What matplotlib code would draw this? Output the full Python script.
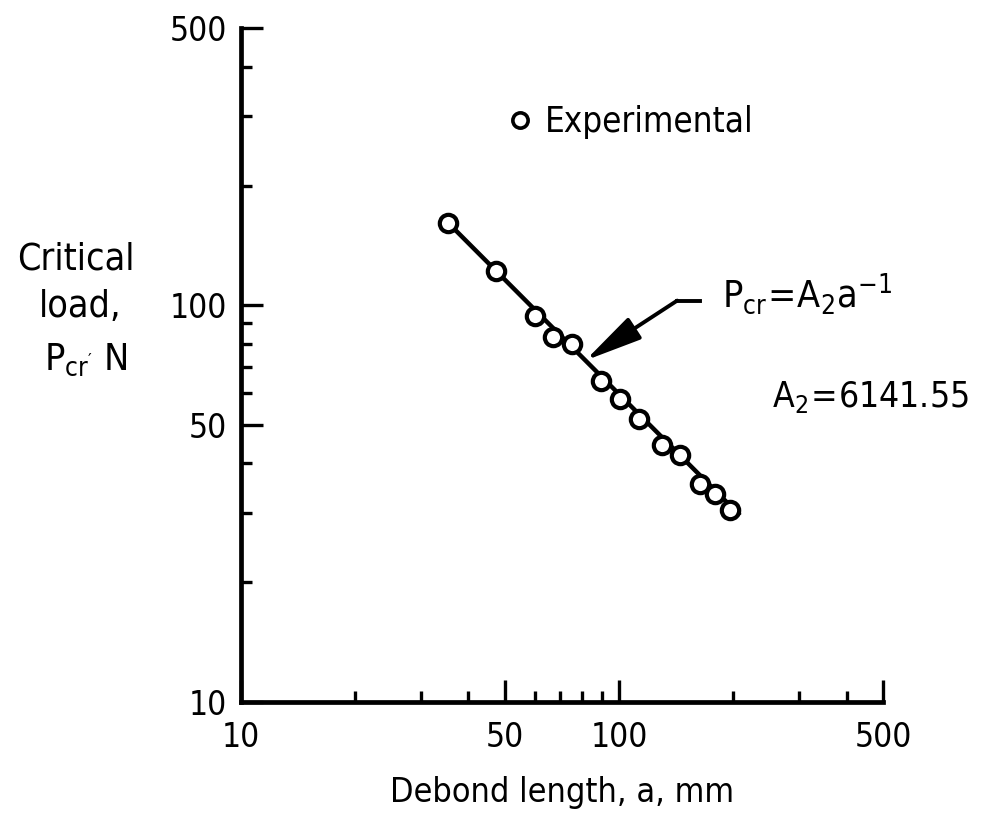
import numpy as np
import matplotlib.pyplot as plt
from matplotlib import font_manager
from matplotlib.ticker import FixedLocator, NullFormatter

# look for a narrow sans face, otherwise fall back to DejaVu Sans
narrow = None
for f in font_manager.fontManager.ttflist:
    if f.name in ('Liberation Sans Narrow', 'DejaVu Sans Condensed', 'Roboto Condensed') \
            or (f.name == 'DejaVu Sans' and f.stretch == 'condensed'):
        narrow = f.name
        break
if narrow is None:
    narrow = 'DejaVu Sans'
plt.rcParams['font.family'] = [narrow, 'DejaVu Sans']
plt.rcParams['font.stretch'] = 'condensed'
plt.rcParams['mathtext.fontset'] = 'custom'
plt.rcParams['mathtext.rm'] = narrow
plt.rcParams['mathtext.it'] = narrow

# experimental points
debond_mm = [35.4, 47.4, 60.1, 67.1, 75.1, 89.8, 100.8, 113.2, 129.6, 144.7, 163.8, 179.0, 197.0]
load_n = [161.3, 122.3, 93.8, 83.4, 79.9, 64.6, 57.9, 51.6, 44.3, 41.8, 35.4, 33.5, 30.4]

# fitted line ends (P = A2 / a)
fit_a = [35.4, 209.0]
fit_p = [161.3, 29.5]

x_major = [10, 50, 100, 500]
x_minor = [20, 30, 40, 60, 70, 80, 90, 200, 300, 400]
y_major = [10, 50, 100, 500]
y_minor = [20, 30, 40, 60, 70, 80, 90, 200, 300, 400]

fig = plt.figure(figsize=(9.81, 8.18), dpi=100)
ax = fig.add_axes([0.2454, 0.1422, 0.655, 0.8232])

ax.plot(fit_a, fit_p, 'k-', lw=3.2, solid_capstyle='butt')
ax.plot(debond_mm, load_n, 'o', ms=12.5, mfc='white', mec='black', mew=3,
        label='Experimental')

ax.set_xscale('log')
ax.set_yscale('log')
ax.set_xlim(10, 500)
ax.set_ylim(10, 500)

ax.xaxis.set_major_locator(FixedLocator(x_major))
ax.xaxis.set_minor_locator(FixedLocator(x_minor))
ax.yaxis.set_major_locator(FixedLocator(y_major))
ax.yaxis.set_minor_locator(FixedLocator(y_minor))
ax.set_xticklabels([str(v) for v in x_major])
ax.set_yticklabels([str(v) for v in y_major])
ax.xaxis.set_minor_formatter(NullFormatter())
ax.yaxis.set_minor_formatter(NullFormatter())

for s in ['top', 'right']:
    ax.spines[s].set_visible(False)
for s in ['left', 'bottom']:
    ax.spines[s].set_linewidth(3.4)

ax.tick_params(which='major', direction='in', length=16, width=2.4, labelsize=24)
ax.tick_params(which='minor', direction='in', length=8, width=2.4)
ax.tick_params(axis='x', which='major', pad=14)
ax.tick_params(axis='y', which='major', pad=10)

ax.set_xlabel('Debond length, a, mm', fontsize=24.5, labelpad=16)

# y label written as three horizontal lines
fig.text(76 / 981, 1 - 260 / 818, 'Critical', fontsize=27, ha='center', va='center')
fig.text(80 / 981, 1 - 307 / 818, 'load,', fontsize=27, ha='center', va='center')
fig.text(86 / 981, 1 - 360 / 818, r"$\mathregular{P_{cr'}}$ N", fontsize=27,
         ha='center', va='center')

leg = ax.legend(loc='center left', bbox_to_anchor=(510 / 981, 1 - 122 / 818),
                bbox_transform=fig.transFigure, frameon=False, fontsize=25,
                handlelength=0.6, handletextpad=0.4, borderpad=0, borderaxespad=0)
for h in leg.legend_handles:
    h.set_markersize(11)
    h.set_markeredgewidth(2.6)

# equation and arrow
arrow_tip = (81.5, 72.6)
arrow_elbow = (142.6, 102.8)
arrow_start = (164.1, 102.8)
ax.plot([arrow_elbow[0], arrow_start[0]], [arrow_elbow[1], arrow_start[1]], 'k-', lw=2.8)
ax.annotate('', xy=arrow_tip, xytext=arrow_elbow,
            arrowprops=dict(arrowstyle='-|>,head_length=1.6,head_width=0.35',
                            color='black', lw=2.8, shrinkA=0, shrinkB=0,
                            mutation_scale=22))

fig.text(722 / 981, 1 - 308 / 818, r'$\mathregular{P_{cr}\!=\!A_2a^{-1}}$',
         fontsize=27, ha='left', va='baseline')
fig.text(772 / 981, 1 - 407 / 818, r'$\mathregular{A_2\!=\!6141.55}$',
         fontsize=25.5, ha='left', va='baseline')

fig.savefig('out.png', dpi=100)
